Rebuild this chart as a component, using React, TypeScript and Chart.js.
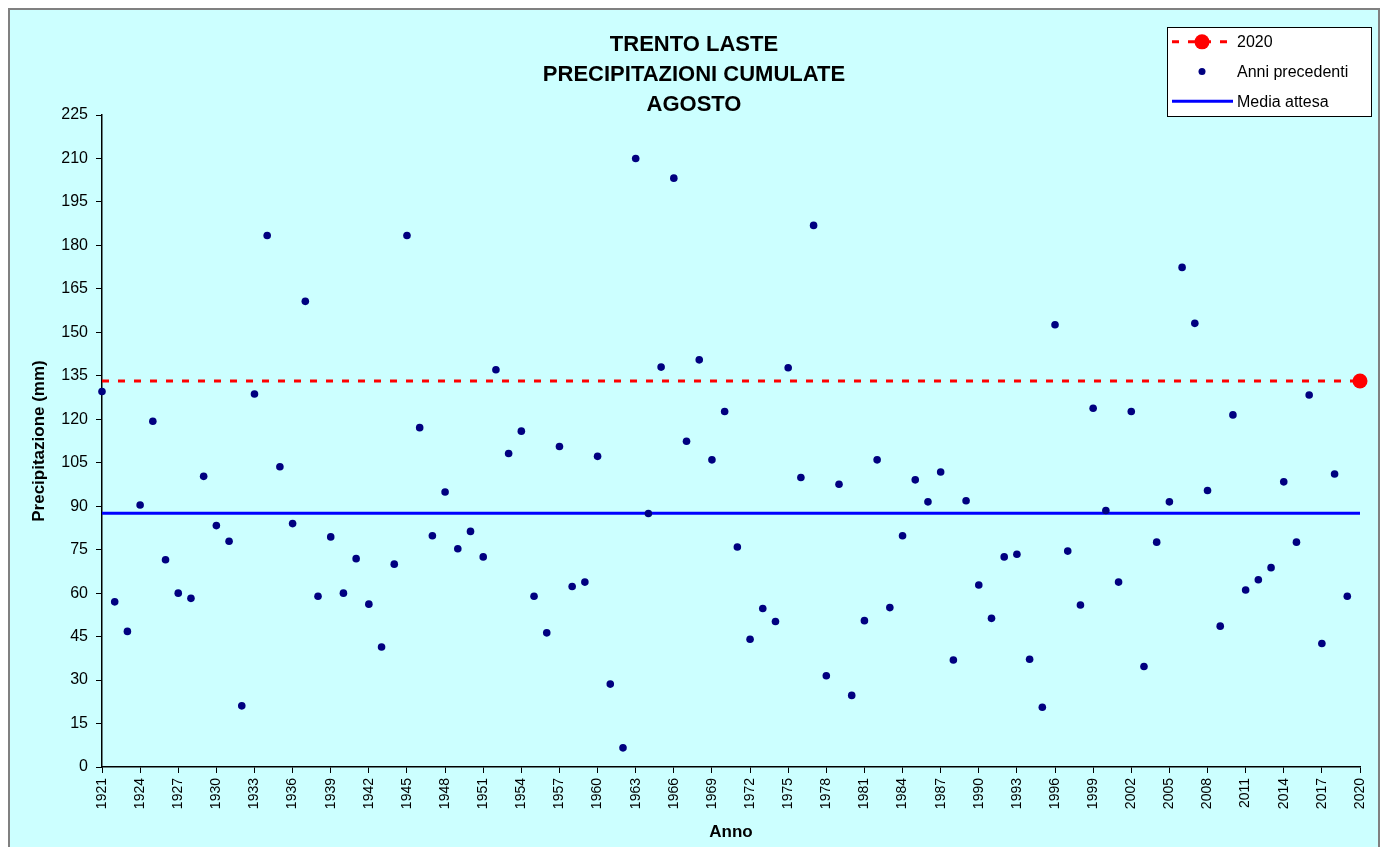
import React, { useEffect, useRef } from "react";
import { Chart, registerables } from "chart.js";

Chart.register(...registerables);

const titleLines = ["TRENTO LASTE", "PRECIPITAZIONI CUMULATE", "AGOSTO"];
const xTitle = "Anno";
const yTitle = "Precipitazione (mm)";
const firstYear = 1921;
const lastYear = 2020;
const yTickMax = 225;
const yTickStep = 15;
const xTickStep = 3;

// Precipitation of previous years (1921..2019), mm
const previousValues = [
  129.6, 57.0, 46.8, 90.4, 119.3, 71.5, 60.0, 58.2, 100.3, 83.3,
  77.9, 21.1, 128.7, 183.4, 103.6, 84.0, 160.7, 58.9, 79.4, 60.0,
  71.9, 56.2, 41.4, 70.0, 183.4, 117.1, 79.8, 94.9, 75.3, 81.3,
  72.5, 137.1, 108.2, 115.9, 58.9, 46.3, 110.6, 62.3, 63.8, 107.2,
  28.6, 6.6, 210.0, 87.5, 138.0, 203.2, 112.4, 140.5, 106.0, 122.7,
  75.9, 44.1, 54.7, 50.2, 137.8, 99.9, 186.9, 31.5, 97.6, 24.7,
  50.5, 106.0, 55.0, 79.8, 99.1, 91.5, 101.8, 36.9, 91.9, 62.8,
  51.3, 72.5, 73.4, 37.2, 20.6, 152.6, 74.5, 55.9, 123.8, 88.5,
  63.8, 122.7, 34.7, 77.6, 91.5, 172.4, 153.1, 95.4, 48.6, 121.5,
  61.1, 64.6, 68.8, 98.4, 77.6, 128.4, 42.6, 101.1, 58.9,
];
const value2020 = 133.2;
const expectedMean = 87.6;

const seriesLabels = ["2020", "Anni precedenti", "Media attesa"];

const FONT = "'Liberation Sans', Arial, Helvetica, sans-serif";

const titlePlugin = {
  id: "centeredTitle",
  afterDraw(chart: any, _args: any, opts: any) {
    const ctx = chart.ctx;
    ctx.save();
    ctx.fillStyle = "#000000";
    ctx.font = `bold ${opts.size}px ${FONT}`;
    ctx.textAlign = "center";
    ctx.textBaseline = "middle";
    opts.lines.forEach((line: string, i: number) => {
      ctx.fillText(line, chart.width / 2, opts.top + i * opts.lineHeight);
    });
    ctx.restore();
  },
};

const legendPlugin = {
  id: "boxLegend",
  afterDraw(chart: any, _args: any, opts: any) {
    const ctx = chart.ctx;
    const { x, y, w, h } = opts;
    const rowH = h / chart.data.datasets.length;
    ctx.save();
    ctx.fillStyle = "#ffffff";
    ctx.fillRect(x, y, w, h);
    ctx.strokeStyle = "#000000";
    ctx.lineWidth = 1;
    ctx.strokeRect(x + 0.5, y + 0.5, w, h);
    chart.data.datasets.forEach((ds: any, i: number) => {
      const cy = y + rowH * (i + 0.5);
      const x0 = x + 5;
      const x1 = x + 66;
      const mx = x + 35;
      if (ds.showLine) {
        ctx.save();
        ctx.strokeStyle = ds.borderColor;
        ctx.lineWidth = ds.borderWidth;
        ctx.setLineDash(ds.borderDash || []);
        ctx.beginPath();
        ctx.moveTo(x0, cy);
        ctx.lineTo(x1, cy);
        ctx.stroke();
        ctx.restore();
      }
      const r = ds.legendMarkerRadius || 0;
      if (r > 0) {
        ctx.fillStyle = ds.pointBackgroundColor;
        ctx.beginPath();
        ctx.arc(mx, cy, r, 0, Math.PI * 2);
        ctx.fill();
      }
      ctx.fillStyle = "#000000";
      ctx.font = `16px ${FONT}`;
      ctx.textAlign = "left";
      ctx.textBaseline = "middle";
      ctx.fillText(ds.label, x + 70, cy + 1);
    });
    ctx.restore();
  },
};

export default function App() {
  const canvasRef = useRef<HTMLCanvasElement | null>(null);

  useEffect(() => {
    if (!canvasRef.current) return;
    Chart.defaults.font.family = FONT;
    const prevPoints = previousValues.map((v, i) => ({ x: firstYear + i, y: v }));
    const chart = new Chart(canvasRef.current, {
      type: "scatter",
      data: {
        datasets: [
          {
            label: seriesLabels[0],
            data: [
              { x: firstYear, y: value2020 },
              { x: lastYear, y: value2020 },
            ],
            showLine: true,
            borderColor: "#ff0000",
            backgroundColor: "#ff0000",
            borderWidth: 3,
            borderDash: [7, 9],
            pointRadius: [0, 7.5],
            pointHoverRadius: [0, 7.5],
            pointBackgroundColor: "#ff0000",
            pointBorderWidth: 0,
            legendMarkerRadius: 7.5,
            clip: false,
          } as any,
          {
            label: seriesLabels[1],
            data: prevPoints,
            showLine: false,
            pointRadius: 3.8,
            pointBackgroundColor: "#000080",
            pointBorderColor: "#000080",
            pointBorderWidth: 0,
            legendMarkerRadius: 3.5,
            clip: false,
          } as any,
          {
            label: seriesLabels[2],
            data: [
              { x: firstYear, y: expectedMean },
              { x: lastYear, y: expectedMean },
            ],
            showLine: true,
            borderColor: "#0000ff",
            backgroundColor: "#0000ff",
            borderWidth: 3,
            pointRadius: 0,
            legendMarkerRadius: 0,
            clip: false,
          } as any,
        ],
      },
      options: {
        responsive: false,
        animation: false,
        devicePixelRatio: 1,
        layout: { padding: { top: 105, left: 0, right: 18, bottom: 0 } },
        plugins: {
          legend: { display: false },
          tooltip: { enabled: false },
          title: { display: false },
          centeredTitle: { lines: titleLines, size: 22, top: 35, lineHeight: 30 },
          boxLegend: { x: 1157, y: 17, w: 204, h: 89 },
        } as any,
        scales: {
          x: {
            type: "linear",
            min: firstYear,
            max: lastYear,
            afterFit(scale: any) {
              scale.height = 80;
              scale.paddingRight = 0;
            },
            ticks: {
              stepSize: xTickStep,
              autoSkip: false,
              minRotation: 90,
              maxRotation: 90,
              padding: 5,
              color: "#000000",
              font: { size: 14, family: FONT },
              callback: (v: any) => String(v),
            },
            grid: {
              display: true,
              drawOnChartArea: false,
              drawTicks: true,
              tickLength: 6,
              tickColor: "#000000",
              tickWidth: 1,
            },
            border: { display: true, color: "#000000", width: 1.5 },
            title: {
              display: true,
              text: xTitle,
              color: "#000000",
              font: { size: 17, weight: "bold", family: FONT },
              padding: { top: 0, bottom: 4 },
            },
          },
          y: {
            type: "linear",
            min: 0,
            max: yTickMax,
            afterFit(scale: any) {
              scale.width = 92;
            },
            ticks: {
              stepSize: yTickStep,
              padding: 8,
              color: "#000000",
              font: { size: 16, family: FONT },
              callback: (v: any) => String(v),
            },
            grid: {
              display: true,
              drawOnChartArea: false,
              drawTicks: true,
              tickLength: 6,
              tickColor: "#000000",
              tickWidth: 1,
            },
            border: { display: true, color: "#000000", width: 1.5 },
            title: {
              display: true,
              text: yTitle,
              color: "#000000",
              font: { size: 17, weight: "bold", family: FONT },
              padding: { top: 19, bottom: 0 },
            },
          },
        },
      } as any,
      plugins: [titlePlugin, legendPlugin],
    });
    return () => chart.destroy();
  }, []);

  return (
    <div
      style={{
        width: 1368,
        height: 837,
        border: "2px solid #808080",
        borderBottom: "none",
        background: "#CCFFFF",
      }}
    >
      <canvas
        ref={canvasRef}
        width={1368}
        height={837}
        style={{ display: "block", width: 1368, height: 837 }}
      />
    </div>
  );
}
